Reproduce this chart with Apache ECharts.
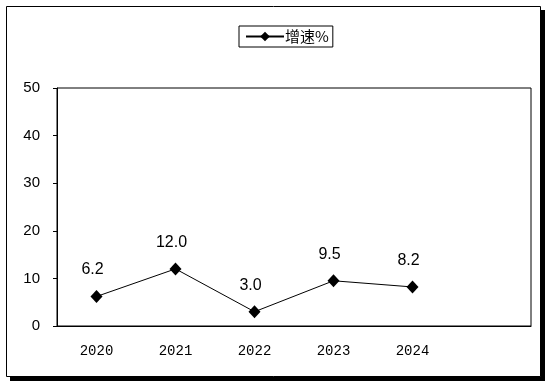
<!DOCTYPE html>
<html><head><meta charset="utf-8">
<script src="https://cdn.jsdelivr.net/npm/echarts@6/dist/echarts.min.js"></script>
<style>html,body{margin:0;padding:0;background:#fff}#c{width:555px;height:387px}</style>
</head><body><div id="c"></div>
<script>
var categories = ['2020', '2021', '2022', '2023', '2024', ''];
var growth = [6.2, 12.0, 3.0, 9.5, 8.2];
var seriesName = '增速%';
var yTicks = [0, 10, 20, 30, 40, 50];

var chart = echarts.init(document.getElementById('c'));
chart.setOption({
  animation: false,
  backgroundColor: '#fff',
  graphic: [
    { type: 'rect', z: -10, silent: true, shape: { x: 10, y: 10, width: 535, height: 371 }, style: { fill: '#000' } },
    { type: 'rect', z: -9, silent: true, shape: { x: 6.5, y: 6.5, width: 534, height: 370 }, style: { fill: '#fff', stroke: '#000', lineWidth: 1 } }
  ],
  legend: {
    data: [seriesName],
    left: 239, top: 26,
    borderColor: '#000', borderWidth: 1, borderRadius: 0,
    padding: [3, 4, 3, 6],
    itemWidth: 38, itemHeight: 12,
    textStyle: { fontFamily: 'Noto Sans CJK SC', fontSize: 15, color: '#000', padding: [0, 0, 0, -4] }
  },
  grid: { left: 57, right: 24, top: 88, bottom: 61, show: true, borderColor: '#000', borderWidth: 1, backgroundColor: 'transparent' },
  xAxis: {
    type: 'category', data: categories, boundaryGap: true,
    axisLine: { lineStyle: { color: '#000', width: 1 } },
    axisTick: { inside: true, length: 5, lineStyle: { color: '#000' } },
    axisLabel: { margin: 18, fontFamily: 'Liberation Mono', fontSize: 14, color: '#000' }
  },
  yAxis: {
    type: 'value', min: yTicks[0], max: yTicks[yTicks.length - 1], interval: yTicks[1] - yTicks[0],
    splitLine: { show: false },
    axisLine: { show: true, lineStyle: { color: '#000', width: 1 } },
    axisTick: { show: true, length: 4, lineStyle: { color: '#000' } },
    axisLabel: { margin: 17, fontFamily: 'Liberation Sans', fontSize: 15, color: '#000' }
  },
  series: [{
    name: seriesName, type: 'line', data: growth,
    symbol: 'diamond', symbolSize: [12, 13],
    itemStyle: { color: '#000' },
    lineStyle: { color: '#000', width: 1 },
    label: {
      show: true, position: 'top', distance: 12, offset: [-4, 0],
      formatter: function (p) { return p.value.toFixed(1); },
      fontFamily: 'Liberation Sans', fontSize: 16, color: '#000'
    }
  }]
});
</script></body></html>
